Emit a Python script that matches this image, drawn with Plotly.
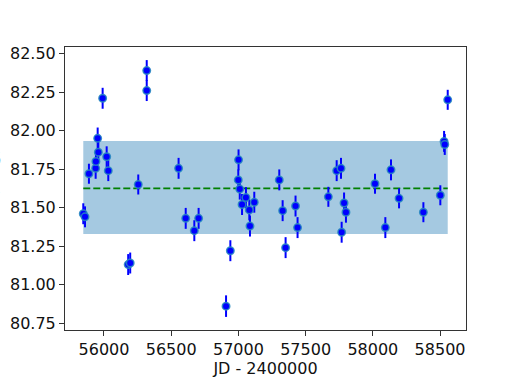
import plotly.graph_objects as go

# JD - 2400000 of each measurement
jd = [55846, 55859, 55888, 55938, 55940, 55953, 55958, 55990, 56020, 56032,
      56180, 56195, 56255, 56318, 56318, 56555, 56608, 56672, 56704, 56908,
      56940, 57001, 56999, 57010, 57027, 57056, 57081, 57086, 57118, 57304,
      57329, 57351, 57425, 57440, 57669, 57731, 57763, 57768, 57786, 57800,
      58016, 58093, 58135, 58195, 58376, 58502, 58530, 58535, 58557]
# measured values
val = [81.46, 81.44, 81.72, 81.755, 81.80, 81.95, 81.86, 82.21, 81.83, 81.74,
       81.13, 81.14, 81.65, 82.39, 82.26, 81.755, 81.43, 81.35, 81.43, 80.86,
       81.22, 81.81, 81.68, 81.62, 81.52, 81.565, 81.485, 81.38, 81.535, 81.68,
       81.48, 81.24, 81.51, 81.37, 81.57, 81.74, 81.755, 81.34, 81.53, 81.47,
       81.655, 81.37, 81.745, 81.56, 81.47, 81.58, 81.93, 81.91, 82.20]
# 1-sigma errors
err = [0.068, 0.068, 0.065, 0.068, 0.068, 0.07, 0.068, 0.068, 0.068, 0.068,
       0.068, 0.068, 0.065, 0.068, 0.068, 0.068, 0.068, 0.068, 0.068, 0.07,
       0.068, 0.068, 0.068, 0.068, 0.068, 0.068, 0.068, 0.068, 0.068, 0.068,
       0.068, 0.068, 0.068, 0.068, 0.065, 0.068, 0.068, 0.068, 0.068, 0.068,
       0.065, 0.068, 0.068, 0.065, 0.065, 0.065, 0.068, 0.068, 0.065]

# mean level and +/- 1 sigma band
mean_level = 81.625
band_lo = 81.328
band_hi = 81.932

x_ticks = [56000, 56500, 57000, 57500, 58000, 58500]
y_ticks = [80.75, 81.00, 81.25, 81.50, 81.75, 82.00, 82.25, 82.50]

x0, x1 = min(jd), max(jd)

fig = go.Figure()

# shaded band
fig.add_trace(go.Scatter(x=[x0, x1, x1, x0, x0], y=[band_lo, band_lo, band_hi, band_hi, band_lo],
                         mode='lines', fill='toself', fillcolor='rgba(31,119,180,0.4)',
                         line=dict(width=0), hoverinfo='skip', showlegend=False))

# mean line
fig.add_trace(go.Scatter(x=[x0, x1], y=[mean_level, mean_level], mode='lines',
                         line=dict(color='#008000', width=1.6, dash='7px,3px'),
                         showlegend=False))

# data points with error bars
fig.add_trace(go.Scatter(x=jd, y=val, mode='markers',
                         marker=dict(size=7.5, color='#0000ff',
                                     line=dict(width=1.5, color='rgba(40,140,190,0.85)')),
                         error_y=dict(type='data', array=err, color='#0000ff',
                                      thickness=2, width=0),
                         showlegend=False))

axis_font = dict(family='DejaVu Sans', size=16, color='#111')

fig.update_xaxes(range=[55710, 58693], tickvals=x_ticks, tickformat='d', ticks='outside',
                 ticklen=5, tickwidth=1, tickcolor='#333', showline=True, linecolor='#333',
                 linewidth=1, mirror=True, showgrid=False, zeroline=False,
                 tickfont=axis_font, automargin=False,
                 title=dict(text='JD - 2400000', font=axis_font, standoff=0))
fig.update_yaxes(range=[80.705, 82.543], tickvals=y_ticks, tickformat='.2f',
                 ticks='outside', ticklen=5, tickwidth=1, tickcolor='#333',
                 showline=True, linecolor='#333', linewidth=1, mirror=True,
                 showgrid=False, zeroline=False, tickfont=axis_font, automargin=False)

# y label, mostly cut off by the left edge as in the original
fig.add_annotation(text='DM (mag)', xref='paper', yref='paper', x=-0.155, y=0.5,
                   xanchor='right', yanchor='middle', textangle=-90,
                   showarrow=False, font=axis_font)

fig.update_layout(width=518, height=388, plot_bgcolor='white', paper_bgcolor='white',
                  margin=dict(l=65, r=52, t=47, b=58, autoexpand=False),
                  font=dict(family='DejaVu Sans'))

fig.write_html("out.html", config={'displayModeBar': False},
               post_script="document.body.style.margin='0';")
